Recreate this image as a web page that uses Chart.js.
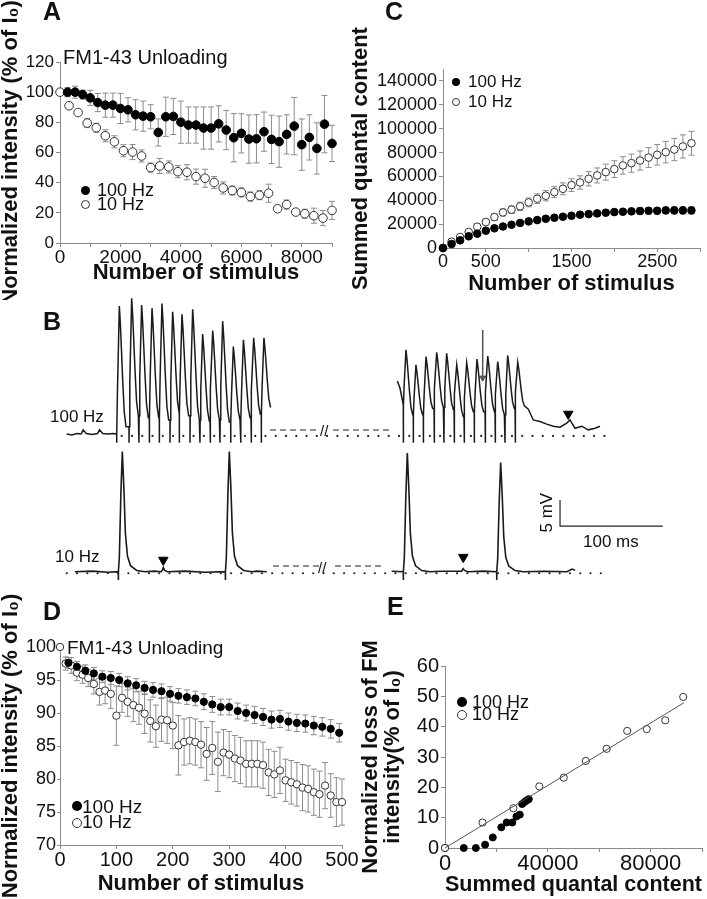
<!DOCTYPE html>
<html>
<head>
<meta charset="utf-8">
<script src="https://cdn.jsdelivr.net/npm/chart.js@4.4.1/dist/chart.umd.min.js"></script>
<style>
  body { margin: 0; background: #fff; width: 707px; height: 899px; position: relative; overflow: hidden;
         font-family: "Liberation Sans", Arial, sans-serif; color: #111; }
  canvas { position: absolute; }
  .t { position: absolute; white-space: nowrap; line-height: 1; }
  .b { font-weight: bold; }
  .dot { position: absolute; border-radius: 50%; box-sizing: border-box; }
  .fill { background: #000; }
  .hollow { background: #fff; border: 1px solid #333; }
</style>
</head>
<body>
<canvas id="cA" width="350" height="300" style="left:0;top:0"></canvas>
<canvas id="cC" width="357" height="300" style="left:350px;top:0"></canvas>
<canvas id="cB" width="707" height="300" style="left:0;top:290px"></canvas>
<canvas id="cD" width="360" height="309" style="left:0;top:590px"></canvas>
<canvas id="cE" width="347" height="309" style="left:360px;top:590px"></canvas>

<!-- panel letters -->
<div class="t b" style="left:43px;top:-1px;font-size:25px">A</div>
<div class="t b" style="left:385px;top:-1px;font-size:25px">C</div>
<div class="t b" style="left:43px;top:309px;font-size:25px">B</div>
<div class="t b" style="left:43px;top:599px;font-size:25px">D</div>
<div class="t b" style="left:387px;top:594px;font-size:25px">E</div>

<!-- A annotations -->
<div class="t" style="left:63px;top:47px;font-size:20px">FM1-43 Unloading</div>
<div class="dot fill" style="left:81px;top:186px;width:9px;height:9px"></div>
<div class="t" style="left:97px;top:181px;font-size:18px">100 Hz</div>
<div class="dot hollow" style="left:81px;top:200px;width:9px;height:9px"></div>
<div class="t" style="left:97px;top:195px;font-size:18px">10 Hz</div>

<!-- C legend -->
<div class="dot fill" style="left:452px;top:78px;width:8px;height:8px"></div>
<div class="t" style="left:468px;top:73px;font-size:17px">100 Hz</div>
<div class="dot hollow" style="left:452px;top:98px;width:8px;height:8px"></div>
<div class="t" style="left:468px;top:93px;font-size:17px">10 Hz</div>

<!-- B labels -->
<div class="t" style="left:50px;top:408px;font-size:17px">100 Hz</div>
<div class="t" style="left:55px;top:548px;font-size:17px">10 Hz</div>
<div class="t" style="left:320px;top:423px;font-size:15px">//</div>
<div class="t" style="left:318px;top:560px;font-size:15px">//</div>
<div class="t" style="left:528px;top:506px;font-size:17px;width:36px;text-align:center;transform:rotate(-90deg)">5 mV</div>
<div class="t" style="left:583px;top:533px;font-size:17px">100 ms</div>

<!-- D annotations -->
<div class="t" style="left:67px;top:638px;font-size:19px">FM1-43 Unloading</div>
<div class="dot fill" style="left:72px;top:801px;width:10px;height:10px"></div>
<div class="t" style="left:82px;top:797px;font-size:19px">100 Hz</div>
<div class="dot hollow" style="left:72px;top:818px;width:10px;height:10px"></div>
<div class="t" style="left:82px;top:812px;font-size:19px">10 Hz</div>

<!-- E legend -->
<div class="dot fill" style="left:457px;top:697px;width:10px;height:10px"></div>
<div class="t" style="left:472px;top:693px;font-size:18px">100 Hz</div>
<div class="dot hollow" style="left:457px;top:710px;width:10px;height:10px"></div>
<div class="t" style="left:472px;top:705px;font-size:18px">10 Hz</div>

<script>
// ---------- A: FM1-43 unloading, long trains ----------
const stimA100 = [250, 500, 750, 1000, 1250, 1500, 1750, 2000, 2250, 2500, 2750, 3000, 3250, 3500, 3750, 4000, 4250, 4500,
                  4750, 5000, 5250, 5500, 5750, 6000, 6250, 6500, 6750, 7000, 7250, 7500, 7750, 8000, 8250, 8500, 8750, 9000];
const intA100 = [100, 100, 98.4, 96.2, 93.1, 91.4, 91.4, 89.2, 88.3, 85, 84.1, 83.7, 73.3, 83.7, 83.9, 80.1, 78.2, 78.2,
                 76.2, 76.2, 79, 74.9, 69.8, 72.7, 68.9, 69.1, 73.8, 68.7, 67.2, 72, 77.5, 65.2, 70, 62.7, 78.8, 66];
const errA100 = [3, 4, 3, 5, 6, 8, 8, 10, 8, 10, 10, 8, 9, 13, 12, 14, 12, 12,
                 14, 14, 12, 13, 16, 13, 16, 16, 13, 16, 17, 13, 19, 17, 15, 17, 19, 12];
const stimA10 = [0, 300, 600, 900, 1200, 1500, 1800, 2100, 2400, 2700, 3000, 3300, 3600, 3900, 4200, 4500,
                 4800, 5100, 5400, 5700, 6000, 6300, 6600, 6900, 7200, 7500, 7800, 8100, 8400, 8700, 9000];
const intA10 = [100, 91, 86.5, 79.5, 76.4, 71.1, 67.1, 61.2, 60.3, 57.7, 50, 51.1, 50.4, 47.3, 46.9, 44,
                42.9, 40.1, 36.5, 34.8, 33.5, 30.8, 31.7, 33, 22.7, 25.5, 20.5, 19.4, 18.1, 16.5, 21.6];
const errA10 = [0, 2, 1.5, 3, 3, 4, 4, 4, 5, 4, 3, 5, 4, 4, 5, 5, 6, 4, 4, 3, 3, 3, 3, 6, 2, 3, 1.5, 3, 5, 5, 6];

// ---------- C: summed quantal content ----------
const stimC = [0, 100, 200, 300, 400, 500, 600, 700, 800, 900, 1000, 1100, 1200, 1300, 1400, 1500, 1600, 1700, 1800, 1900,
               2000, 2100, 2200, 2300, 2400, 2500, 2600, 2700, 2800, 2900];
const qc100 = [0, 3300, 6400, 9800, 12000, 14500, 16500, 18000, 19500, 21000, 22300, 23400, 24500, 25400, 26200, 27000,
               27900, 28400, 29000, 29600, 30100, 30400, 30700, 31000, 31200, 31200, 31500, 31500, 31500, 31500];
const errC100 = [0, 500, 800, 1000, 1000, 1200, 1200, 1300, 1400, 1500, 1500, 1600, 1700, 1800, 1900, 2000,
                 2000, 2100, 2200, 2200, 2300, 2400, 2500, 2600, 2600, 2700, 2800, 2900, 3000, 3000];
const qc10 = [0, 5300, 9200, 13400, 17800, 21800, 25900, 29800, 32100, 34900, 38200, 41300, 43800, 46800, 49600, 52700,
              54900, 58000, 60800, 63600, 66100, 69200, 71100, 73300, 75800, 78100, 80300, 82500, 85100, 87800];
const errC10 = [0, 1000, 1500, 2000, 2200, 2500, 2800, 3000, 3200, 3500, 3700, 4000, 4300, 4600, 5000, 5300,
                5600, 6000, 6300, 6700, 7000, 7300, 7600, 8000, 8300, 8600, 9000, 9300, 9700, 10000];
const tickLabelsC = [0, 500, 1500, 2500];
const yTicksC = [0, 20000, 40000, 60000, 80000, 100000, 120000, 140000];

// ---------- D: first 500 stimuli ----------
const stimD100 = [15, 30, 45, 60, 75, 90, 105, 120, 135, 150, 165, 180, 195, 210, 225, 240, 255, 270, 285, 300,
                  315, 330, 345, 360, 375, 390, 405, 420, 435, 450, 465, 480, 495];
const intD100 = [97.6, 97.0, 96.4, 96.0, 95.5, 95.3, 95.0, 94.5, 94.2, 93.8, 93.5, 93.3, 92.9, 92.6, 92.4, 92.2, 91.7,
                 91.3, 90.9, 90.9, 90.3, 90.0, 89.7, 89.4, 89.0, 89.1, 88.7, 88.5, 88.4, 88.1, 87.9, 87.6, 87.0];
const errD100 = [0.8, 0.8, 0.9, 0.9, 0.9, 1.0, 1.0, 1.0, 1.0, 1.0, 1.1, 1.1, 1.1, 1.1, 1.1, 1.1, 1.2,
                 1.2, 1.2, 1.2, 1.2, 1.2, 1.3, 1.3, 1.3, 1.3, 1.3, 1.3, 1.3, 1.4, 1.4, 1.4, 1.4];
const stimD10 = [0, 10, 20, 30, 40, 50, 60, 70, 80, 90, 100, 110, 120, 130, 140, 150, 160, 170, 180, 190, 200,
                 210, 220, 230, 240, 250, 260, 270, 280, 290, 300, 310, 320, 330, 340, 350, 360, 370, 380, 390, 400,
                 410, 420, 430, 440, 450, 460, 470, 480, 490, 500];
const intD10 = [100, 97.5, 97.2, 96.1, 95.8, 95.3, 94.4, 93.2, 93.4, 92.9, 89.6, 92.3, 91.7, 91.2, 90.8, 89.9, 88.8,
                88, 89, 88.9, 88.1, 85.1, 85.6, 85.8, 85.6, 85.2, 83.8, 84.7, 82.6, 84, 83.7, 83.1, 82.8, 82.3,
                82.3, 82.3, 82.1, 81, 80.7, 81.3, 79.8, 79.5, 79.2, 78.7, 78.5, 78, 77.7, 79, 77.5, 76.5, 76.5];
const errD10 = [0, 1.0, 1.2, 1.2, 1.3, 1.3, 1.5, 2.0, 2.0, 2.2, 4.5, 2.2, 2.2, 2.5, 2.5, 3, 3.2, 3.2, 3.3, 3.5, 3.5,
                4.5, 3.5, 3.5, 3.5, 3.5, 4, 4, 4.5, 3.5, 3.5, 3.5, 3.5, 3.5, 3.5, 3.5, 3.5, 3.5, 3.5, 3.5,
                3.2, 3.3, 3.3, 3.5, 3.5, 3.5, 3.5, 3.5, 3.3, 3.7, 3.5];

// ---------- E: FM loss vs quantal content ----------
const qcE100 = [0, 7300, 12000, 15600, 18600, 21900, 24000, 26200, 27800, 29100, 30000, 31000, 31800, 32600];
const lossE100 = [0, 0, 0, 1.1, 3.5, 6.8, 8.4, 8.4, 10.4, 11, 14.5, 15.2, 15.7, 16.1];
const qcE10 = [0, 14600, 26600, 36700, 46200, 54800, 62900, 70900, 78500, 85700, 92700];
const lossE10 = [0, 8.4, 13.1, 20.3, 23.2, 28.7, 32.7, 38.6, 39.2, 42.1, 49.8];
const fitE = [[0, 0], [93000, 47.9]];
const tickLabelsE = [0, 40000, 80000];

// ---------- B: EPP traces (ms, mV) ----------
const stim100L = [113.6, 125.6, 135.3, 145.4, 155.1, 165.5, 174.6, 185.0, 194.7, 204.5, 214.2, 224.6, 234.4, 244.4, 254.4];
const peak100L = [24.6, 26.1, 24.8, 24.2, 25.1, 23.5, 23.0, 24.0, 19.2, 19.9, 21.7, 16.8, 18.1, 18.5, 18.5];
const level100L = [0, 1.4, 3.5, 3.1, 3.1, 2.7, 3.8, 3.5, 2.7, 2.5, 2.7, 2.3, 2.7, 3.1, 3.8, 5.1];
const pre100L = [[65, 0], [70, -0.2], [75, 0.1], [79, 0], [81, 0.8], [84, 0.1], [90, -0.1], [95, 0.1], [97, 0.8],
                 [100, 0.1], [105, 0], [110, 0.1], [113.6, 0]];
const stim100R = [392.7, 402.4, 412.2, 422.6, 432.3, 442.1, 451.8, 461.8, 472.3, 482.0, 491.7, 501.5];
const peak100R = [16.2, 13.3, 14.9, 15.7, 15.5, 13.3, 13.7, 14.4, 15.0, 13.9, 15.1, 13.8];
const level100R = [5.6, 3.7, 3.7, 4.9, 5.1, 4.7, 3.3, 4.3, 4.3, 4.3, 3.7, 4.9, 5.4];
const pre100R = [[386.9, 10.2], [389.5, 8.8]];
const tail100R = [[514.4, 4.75], [519.3, 2.7], [525.8, 2.4], [532.3, 1.9], [538.8, 1.5], [545.3, 1.3], [551.8, 2.1],
                  [555, 2.7], [559.9, 1.1], [566.4, 1.5], [572.8, 0.8], [579.4, 1.1], [584.2, 1.5]];
const rise100 = [[0.8, 0.35], [2.6, 1]];
const decay100 = [[1, 0.15], [2, 0.35], [3.3, 0.62], [4.8, 0.88], [6.5, 1]];

const stim10L = [115.2, 219.4];
const peak10L = [23.1, 23.1];
const stim10R = [392.7, 483.6];
const peak10R = [22.8, 21.0];
const pre10L = [[73, 0], [90, 0.1], [105, -0.1], [115.2, 0]];
const gap10L = [[150, 0.1], [157, 0], [158.2, 0.4], [159, 0.8], [160.2, 0.3], [163, 0], [180, 0.1], [200, -0.1]];
const end10L = [[250, 0.1], [259.7, 0]];
const pre10R = [[381.4, 0.1], [392.7, 0]];
const gap10R = [[430, 0.1], [449.5, 0.1], [451, 0.6], [452.5, 0.2], [456, 0], [470, 0.1]];
const end10R = [[530, 0.1], [552, 0], [557, 0.5], [560, 0.3]];
const rise10 = [[1, 0.12], [2.5, 0.65], [3.9, 1]];
const decay10 = [[1.5, 0.3], [3, 0.68], [5, 0.87], [8, 0.95], [14, 0.99], [22, 1]];
const offset10 = -26.48;

const timeDots100 = [118.5, 588.5];
const timeDots10 = [65, 585];
const breaks100 = [[262.9, 309.6], [324.2, 380]];
const breaks10 = [[265.8, 311.6], [326.2, 372.9]];
const markers100 = [[553.3, 3.85]];
const markers10 = [[159, 2.25], [451.1, 2.8]];
const arrow100 = [[470, 20], [470, 10.8]];
const scaleBar = [[545.3, -12.7], [545.3, -17.7], [645.3, -17.7]];

// ---------- helpers ----------
Chart.defaults.font.family = '"Liberation Sans", Arial, sans-serif';
Chart.defaults.color = '#111';

const errorBars = {
  id: 'errorBars',
  beforeDatasetsDraw(chart) {
    const ctx = chart.ctx;
    const y = chart.scales.y;
    chart.data.datasets.forEach((ds, i) => {
      if (!ds.errors) return;
      const meta = chart.getDatasetMeta(i);
      ctx.save();
      ctx.strokeStyle = '#8c8c8c';
      ctx.lineWidth = 1;
      meta.data.forEach((pt, j) => {
        const e = ds.errors[j];
        if (!e) return;
        const v = ds.data[j].y;
        const top = y.getPixelForValue(v + e);
        const bot = y.getPixelForValue(v - e);
        ctx.beginPath();
        ctx.moveTo(pt.x, top); ctx.lineTo(pt.x, bot);
        ctx.moveTo(pt.x - 3, top); ctx.lineTo(pt.x + 3, top);
        ctx.moveTo(pt.x - 3, bot); ctx.lineTo(pt.x + 3, bot);
        ctx.stroke();
      });
      ctx.restore();
    });
  }
};

function pts(xs, ys) { return xs.map((x, i) => ({ x, y: ys[i] })); }
function pairs(arr, off = 0) { return arr.map(([x, y]) => ({ x, y: y + off })); }

function filled(data, errors, r) {
  return { data, errors, pointRadius: r, pointBackgroundColor: '#000', pointBorderColor: '#000',
           pointBorderWidth: 1, showLine: false, clip: false };
}
function hollow(data, errors, r) {
  return { data, errors, pointRadius: r, pointBackgroundColor: '#fff', pointBorderColor: '#333',
           pointBorderWidth: 1, showLine: false, clip: false };
}

function axis(o) {
  return {
    type: 'linear', min: o.min, max: o.max,
    border: { display: true, color: '#8a8a8a', width: 1 },
    grid: { display: true, drawOnChartArea: false, drawTicks: true, tickLength: o.tl || 4, color: '#8a8a8a' },
    ticks: { stepSize: o.step, includeBounds: false, autoSkip: false, maxRotation: 0, padding: o.pad ?? 1,
             color: '#111', font: { size: o.fs, lineHeight: 1 },
             callback: o.labels ? (v => o.labels.includes(v) ? String(v) : '') : (v => String(v)) },
    title: { display: true, text: o.title, color: '#111', padding: 0,
             font: { size: o.ts || 22, weight: 'bold', lineHeight: 1 } },
    afterBuildTicks: o.values ? (s => { s.ticks = o.values.map(value => ({ value })); }) : undefined,
    afterFit: o.fit
  };
}

function panel(id, datasets, xs, ys, pad) {
  return new Chart(document.getElementById(id), {
    type: 'scatter',
    data: { datasets },
    options: {
      responsive: false, animation: false, devicePixelRatio: 1,
      layout: { padding: pad, autoPadding: false },
      plugins: { legend: { display: false }, tooltip: { enabled: false } },
      scales: { x: xs, y: ys }
    },
    plugins: [errorBars]
  });
}

// A
panel('cA', [
  filled(pts(stimA100, intA100), errA100, 4.3),
  hollow(pts(stimA10, intA10), errA10, 4.3)
], axis({ min: 0, max: 9000, step: 1000, fs: 19, labels: [0, 2000, 4000, 6000, 8000],
          title: 'Number of stimulus', fit: s => { s.height = 41; } }),
   axis({ min: 0, max: 120, step: 20, fs: 17, pad: 2,
          title: 'Normalized intensity (% of I\u2080)', fit: s => { s.width = 60; } }),
   { top: 62, right: 18, bottom: 16, left: 0 });

// C
panel('cC', [
  filled(pts(stimC, qc100), errC100, 3.8),
  hollow(pts(stimC, qc10), errC10, 3.8)
], axis({ min: 0, max: 3000, step: 500, fs: 18, labels: tickLabelsC,
          title: 'Number of stimulus', fit: s => { s.height = 47; } }),
   axis({ min: 0, max: 150000, step: 20000, fs: 18, pad: 2, values: yTicksC,
          title: 'Summed quantal content', fit: s => { s.width = 93; } }),
   { top: 69, right: 7, bottom: 5, left: 0 });

// D
panel('cD', [
  filled(pts(stimD100, intD100), errD100, 3.6),
  hollow(pts(stimD10, intD10), errD10, 3.7)
], axis({ min: 0, max: 500, step: 100, fs: 20,
          title: 'Number of stimulus', fit: s => { s.height = 50; } }),
   axis({ min: 70, max: 100, step: 5, fs: 18, tl: 3, pad: 1,
          title: 'Normalized intensity (% of I\u2080)', fit: s => { s.width = 60; } }),
   { top: 57, right: 18, bottom: 4, left: 0 });

// E
panel('cE', [
  { data: pairs(fitE), showLine: true, borderColor: '#555', borderWidth: 1, pointRadius: 0, clip: false },
  hollow(pts(qcE10, lossE10), null, 3.6),
  filled(pts(qcE100, lossE100), null, 3.5)
], axis({ min: 0, max: 100000, step: 20000, fs: 22, labels: tickLabelsE,
          title: 'Summed quantal content', fit: s => { s.height = 48; } }),
   axis({ min: 0, max: 60, step: 10, fs: 20, pad: 2,
          title: ['Normalized loss of FM', 'intensity(% of I\u2080)'], fit: s => { s.width = 85; } }),
   { top: 76, right: 5, bottom: 3, left: 0 });

// B traces built from the read stimulus times, peaks and trough levels
function spikeTrain(stims, peaks, levels, rise, decay, artifact) {
  const out = [];
  stims.forEach((t, i) => {
    const base = levels[i], next = levels[i + 1];
    out.push({ x: t, y: base }, { x: t, y: artifact }, { x: t + 0.2, y: base });
    rise.forEach(([dt, f]) => out.push({ x: t + dt, y: base + (peaks[i] - base) * f }));
    const tp = t + rise[rise.length - 1][0];
    decay.forEach(([dt, f]) => out.push({ x: tp + dt, y: peaks[i] + (next - peaks[i]) * f }));
  });
  return out;
}
function shift(points, off) { return points.map(p => ({ x: p.x, y: p.y + off })); }
function dotRow([from, to], y) {
  const out = [];
  for (let t = from; t <= to + 0.01; t += 10) out.push({ x: t, y });
  return out;
}

const trace100L = [...pairs(pre100L), ...spikeTrain(stim100L, peak100L, level100L, rise100, decay100, -1.7)];
const trace100R = [...pairs(pre100R), ...spikeTrain(stim100R, peak100R, level100R, rise100, decay100, -1.7),
                   ...pairs(tail100R)];
const trace10L = shift([...pairs(pre10L), ...spikeTrain([stim10L[0]], [peak10L[0]], [0, 0], rise10, decay10, -1.6),
                  ...pairs(gap10L), ...spikeTrain([stim10L[1]], [peak10L[1]], [0, 0], rise10, decay10, -1.6),
                  ...pairs(end10L)], offset10);
const trace10R = shift([...pairs(pre10R), ...spikeTrain([stim10R[0]], [peak10R[0]], [0, 0], rise10, decay10, -1.6),
                  ...pairs(gap10R), ...spikeTrain([stim10R[1]], [peak10R[1]], [0, 0], rise10, decay10, -1.6),
                  ...pairs(end10R)], offset10);

const line = (data, w = 1.4, color = '#1a1a1a') =>
  ({ data, showLine: true, borderColor: color, borderWidth: w, pointRadius: 0, tension: 0, clip: false });
const dashed = (seg, y) =>
  ({ data: [{ x: seg[0], y }, { x: seg[1], y }], showLine: true, borderColor: '#222', borderWidth: 1.2,
     borderDash: [6, 4], pointRadius: 0, clip: false });
const dots = data => ({ data, showLine: false, pointRadius: 1.1, pointBackgroundColor: '#222',
                        pointBorderWidth: 0, clip: false });
const triangles = (data, r, color = '#000') =>
  ({ data, showLine: false, pointStyle: 'triangle', rotation: 180, pointRadius: r,
     pointBackgroundColor: color, pointBorderColor: color, pointBorderWidth: 1, clip: false });

new Chart(document.getElementById('cB'), {
  type: 'scatter',
  data: {
    datasets: [
      dots(dotRow(timeDots100, -0.38)),
      dots(dotRow(timeDots10, offset10 - 0.3)),
      dashed(breaks100[0], 0.77), dashed(breaks100[1], 0.77),
      dashed(breaks10[0], offset10 + 1.1), dashed(breaks10[1], offset10 + 1.1),
      line(trace100L, 1.5), line(trace100R, 1.5),
      line(trace10L, 1.6), line(trace10R, 1.6),
      line(pairs(arrow100), 1.5, '#555'),
      triangles([pairs(arrow100)[1]], 3.5, '#555'),
      triangles(pairs(markers100), 5.5),
      triangles(pairs(markers10, offset10), 5.5),
      line(pairs(scaleBar), 1.2, '#222')
    ]
  },
  options: {
    responsive: false, animation: false, devicePixelRatio: 1,
    layout: { padding: 0, autoPadding: false },
    plugins: { legend: { display: false }, tooltip: { enabled: false } },
    scales: {
      x: { type: 'linear', display: false, min: 0, max: 688.4 },
      y: { type: 'linear', display: false, min: -30, max: 27.69 }
    }
  }
});
</script>
</body>
</html>
